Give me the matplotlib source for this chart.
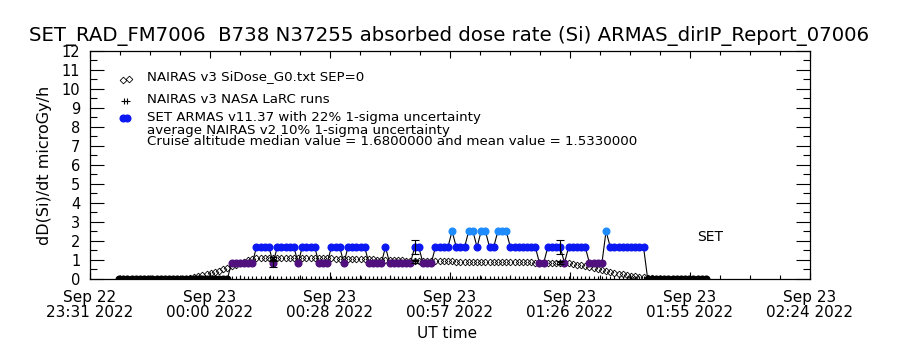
import matplotlib
matplotlib.use("Agg")
import matplotlib.pyplot as plt
from matplotlib.ticker import MultipleLocator
from matplotlib.transforms import ScaledTranslation
import numpy as np

title = "SET_RAD_FM7006  B738 N37255 absorbed dose rate (Si) ARMAS_dirIP_Report_07006"

# x axis is minutes after Sep 22 23:31 UT
t_span = 173
tick_days = ["Sep 22", "Sep 23", "Sep 23", "Sep 23", "Sep 23", "Sep 23", "Sep 23"]
tick_times = ["23:31 2022", "00:00 2022", "00:28 2022", "00:57 2022",
              "01:26 2022", "01:55 2022", "02:24 2022"]

# one record per minute, starting at minute 7
t_first = 7

# SET ARMAS dose rate, microGy/h
armas = [
    0, 0, 0, 0, 0, 0, 0, 0, 0, 0,
    0, 0, 0, 0, 0, 0, 0, 0, 0, 0,
    0, 0, 0, 0, 0, 0, 0, 0.84, 0.84, 0.84,
    0.84, 0.84, 0.84, 1.68, 1.68, 1.68, 1.68, 0.84, 1.68, 1.68,
    1.68, 1.68, 1.68, 0.84, 1.68, 1.68, 1.68, 1.68, 0.84, 0.84,
    0.84, 1.68, 1.68, 1.68, 0.84, 1.68, 1.68, 1.68, 1.68, 1.68,
    0.84, 0.84, 0.84, 0.84, 1.68, 0.84, 0.84, 0.84, 0.84, 0.84,
    0.84, 1.68, 1.68, 0.84, 0.84, 0.84, 1.68, 1.68, 1.68, 1.68,
    2.52, 1.68, 1.68, 1.68, 2.52, 2.52, 1.68, 2.52, 2.52, 1.68,
    1.68, 2.52, 2.52, 2.52, 1.68, 1.68, 1.68, 1.68, 1.68, 1.68,
    1.68, 0.84, 0.84, 1.68, 1.68, 1.68, 1.68, 0.84, 1.68, 1.68,
    1.68, 1.68, 1.68, 0.84, 0.84, 0.84, 0.84, 2.52, 1.68, 1.68,
    1.68, 1.68, 1.68, 1.68, 1.68, 1.68, 1.68, 0, 0, 0,
    0, 0, 0, 0, 0, 0, 0, 0, 0, 0,
    0, 0,
]

# NAIRAS v3 SiDose_G0 model, microGy/h
nairas = [
    0, 0, 0, 0, 0, 0, 0, 0, 0, 0,
    0, 0, 0, 0, 0, 0, 0, 0.05, 0.1, 0.15,
    0.2, 0.25, 0.3, 0.35, 0.42, 0.5, 0.58, 0.66, 0.74, 0.82,
    0.9, 0.98, 1.05, 1.1, 1.12, 1.12, 1.11, 1.12, 1.13, 1.12,
    1.11, 1.12, 1.11, 1.1, 1.11, 1.1, 1.1, 1.09, 1.1, 1.09,
    1.08, 1.08, 1.07, 1.07, 1.06, 1.06, 1.05, 1.05, 1.04, 1.04,
    1.03, 1.03, 1.02, 1.01, 1.0, 1.0, 0.99, 0.98, 0.98, 0.97,
    0.97, 0.96, 0.96, 0.95, 0.95, 0.95, 0.94, 0.94, 0.93, 0.93,
    0.93, 0.92, 0.92, 0.92, 0.91, 0.91, 0.91, 0.9, 0.9, 0.9,
    0.9, 0.89, 0.89, 0.89, 0.88, 0.88, 0.88, 0.87, 0.87, 0.87,
    0.86, 0.86, 0.86, 0.85, 0.85, 0.85, 0.84, 0.84, 0.83, 0.8,
    0.76, 0.72, 0.67, 0.62, 0.57, 0.52, 0.47, 0.42, 0.37, 0.32,
    0.28, 0.24, 0.2, 0.17, 0.14, 0.11, 0.08, 0.05, 0.03, 0.01,
    0, 0, 0, 0, 0, 0, 0, 0, 0, 0,
    0, 0,
]

# NAIRAS v3 NASA LaRC runs
larc_t = [44, 78, 113]
larc_dose = [1.05, 0.93, 0.87]
larc_err = [0.10, 0.09, 0.09]

# ARMAS points that get a 22% error bar
err_t = [44, 78, 113]

minutes = np.arange(t_first, t_first + len(armas))
armas = np.array(armas)
nairas = np.array(nairas)

fig = plt.figure(figsize=(9, 3.5), dpi=100)
ax = fig.add_axes([0.1, 0.2029, 0.8, 0.6514])
plt.rcParams['font.family'] = ['DejaVu Sans']

# model
ax.plot(minutes, nairas, 'D', ms=3.4, mfc='none', mec='k', mew=0.6, zorder=2)

# ARMAS: line, then colour-coded dots
ax.plot(minutes, armas, color='k', lw=0.8, zorder=3)
groups = [(0, 'black'), (0.84, '#50107e'), (1.68, '#0c18f2'), (2.52, '#1e8cff')]
for level, col in groups:
    sel = np.isclose(armas, level)
    ax.plot(minutes[sel], armas[sel], 'o', ms=4.8, color=col, mec=col, zorder=4)
ax.plot(minutes, np.zeros(len(minutes)), '|', ms=5, color='k', mew=0.8, zorder=4)

err_vals = armas[np.searchsorted(minutes, err_t)]
ax.errorbar(err_t, err_vals, yerr=0.22 * err_vals, fmt='none', ecolor='k',
            elinewidth=0.8, capsize=2.6, capthick=0.8, zorder=5)
ax.errorbar(larc_t, larc_dose, yerr=larc_err, fmt='+', color='k', ms=5,
            mew=0.8, elinewidth=0.8, capsize=2.6, capthick=0.8, zorder=5)

ax.text(149, 2.2, "SET", ha='center', va='center', fontsize=10)

# legend block
tr = ax.transAxes
ax.plot([0.046, 0.054], [0.873, 0.876], 'D', ms=3.4, mfc='none', mec='k',
        mew=0.6, transform=tr)
ax.plot([0.047, 0.052], [0.782, 0.782], '+', ms=5, color='k', mew=0.8, transform=tr)
ax.plot([0.046, 0.052], [0.708, 0.708], 'o', ms=4.8, color='#0c18f2', transform=tr)
legend_lines = [
    (0.886, "NAIRAS v3 SiDose_G0.txt SEP=0"),
    (0.789, "NAIRAS v3 NASA LaRC runs"),
    (0.708, "SET ARMAS v11.37 with 22% 1-sigma uncertainty"),
    (0.651, "average NAIRAS v2 10% 1-sigma uncertainty"),
    (0.605, "Cruise altitude median value = 1.6800000 and mean value = 1.5330000"),
]
for yy, txt in legend_lines:
    ax.text(0.079, yy, txt, transform=tr, ha='left', va='center', fontsize=9.6)

ax.set_xlim(0, t_span)
ax.set_ylim(0, 12)
ax.set_xticks(np.linspace(0, t_span, 7))
ax.set_xticklabels([d + "\n" + t for d, t in zip(tick_days, tick_times)],
                   fontsize=11, linespacing=1.0)
ax.xaxis.set_minor_locator(MultipleLocator(t_span / 24))
ax.set_yticks(range(0, 13))
ylabels = ax.set_yticklabels([str(v) for v in range(0, 13)])
# nudge end labels inwards like the original
ylabels[-1].set_transform(ylabels[-1].get_transform()
                          + ScaledTranslation(0, -4 / 72, fig.dpi_scale_trans))
ylabels[0].set_transform(ylabels[0].get_transform()
                         + ScaledTranslation(0, 2 / 72, fig.dpi_scale_trans))
ax.yaxis.set_minor_locator(MultipleLocator(0.5))
ax.tick_params(axis='x', which='both', direction='in', top=True, bottom=True, pad=8)
ax.tick_params(axis='x', which='major', length=5, width=0.8)
ax.tick_params(axis='x', which='minor', length=3, width=0.8)
ax.tick_params(axis='y', which='both', direction='in', left=True, right=True,
               labelsize=10.5, pad=7)
ax.tick_params(axis='y', which='major', length=10, width=0.8)
ax.tick_params(axis='y', which='minor', length=5, width=0.8)
for s in ax.spines.values():
    s.set_linewidth(0.9)

fig.text(0.499, 1 - 36 / 350, title, ha='center', va='center', fontsize=14.2)
fig.text(45 / 900, 1 - 165 / 350, "dD(Si)/dt microGy/h", rotation=90,
         ha='center', va='center', fontsize=11.5)
fig.text(447 / 900, 1 - 334 / 350, "UT time", ha='center', va='center', fontsize=11)

fig.savefig("out.png", dpi=100)
